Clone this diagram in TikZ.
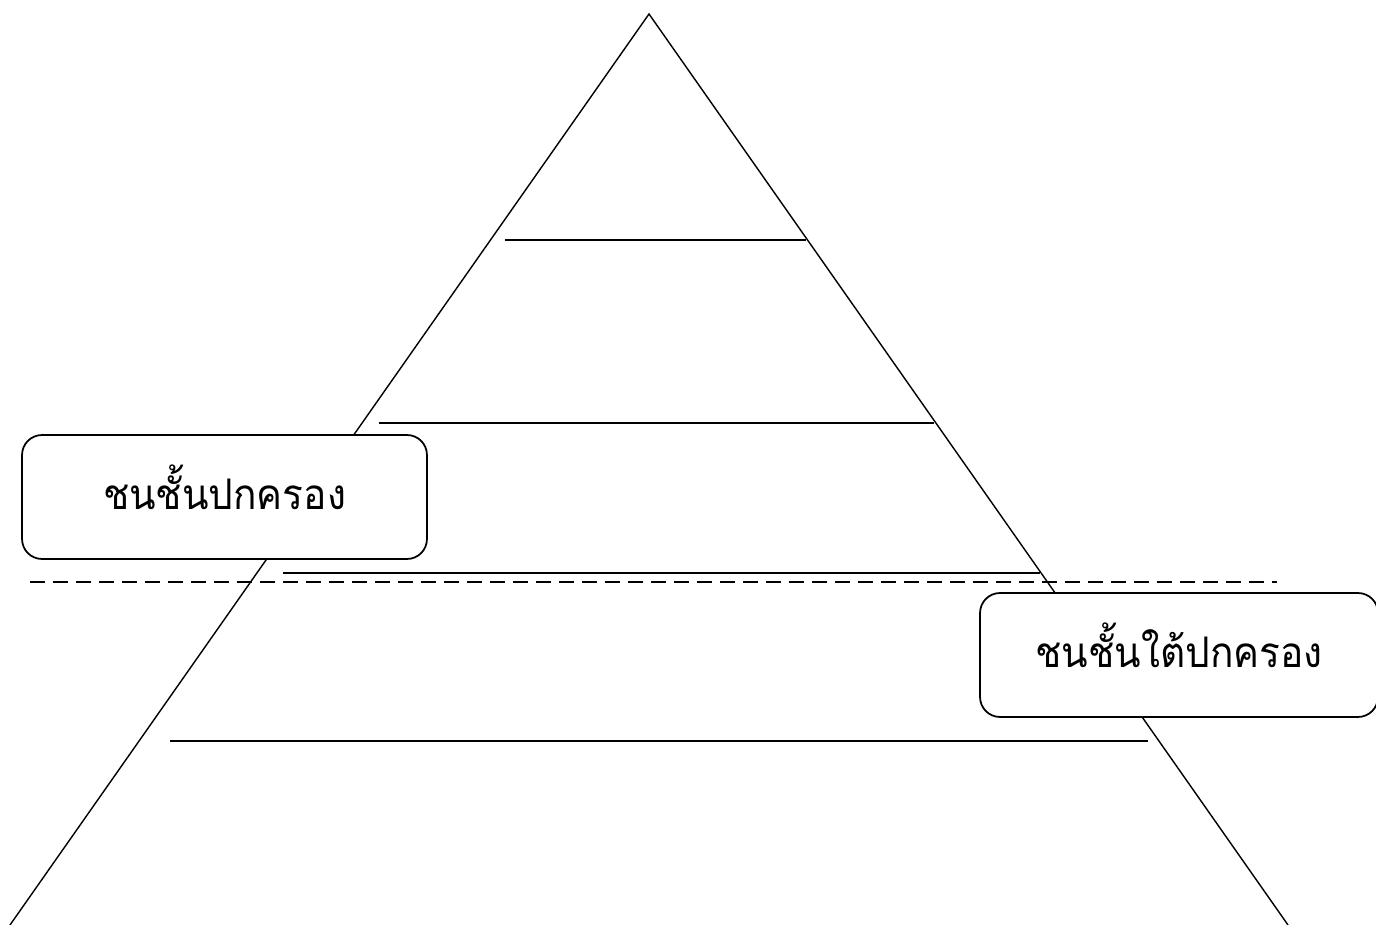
\documentclass[tikz,border=0pt]{standalone}
\usepackage{fontspec}
\newfontfamily\thaifont[Script=Thai,FakeStretch=0.92]{Loma}
\usepackage{tikz}

\tikzset{
  side/.style={line width=0.8pt},
  layer/.style={line width=1.2pt},
  classbox/.style={draw, line width=1pt, fill=white, rounded corners=0.4cm,
    minimum height=2.48cm, text height=0.8cm, text depth=0.28cm,
    font=\thaifont\fontsize{24}{28}\selectfont}
}

\begin{document}
\begin{tikzpicture}[x=0.02cm, y=-0.02cm]
  \useasboundingbox (0,0) rectangle (1376,925);
  \coordinate (top) at (649,14);
  \coordinate (bl) at (10,925);
  \coordinate (br) at (1288,925);
  \draw [side] (bl) -- (top) -- (br);
  \draw [layer] (505,240) -- (806,240);
  \draw [layer] (379,423) -- (934,423);
  \draw [layer] (283,573) -- (1040,573);
  \draw [layer] (170,741) -- (1148,741);
  \draw [line width=1pt, dash pattern=on 0.3cm off 0.16cm] (30,582) -- (1277,582);
  \node [classbox, minimum width=8.1cm] (ruler) at (224.5,497) {ชนชั้นปกครอง};
  \node [classbox, minimum width=7.96cm] (ruled) at (1179,655) {ชนชั้นใต้ปกครอง};
\end{tikzpicture}
\end{document}
